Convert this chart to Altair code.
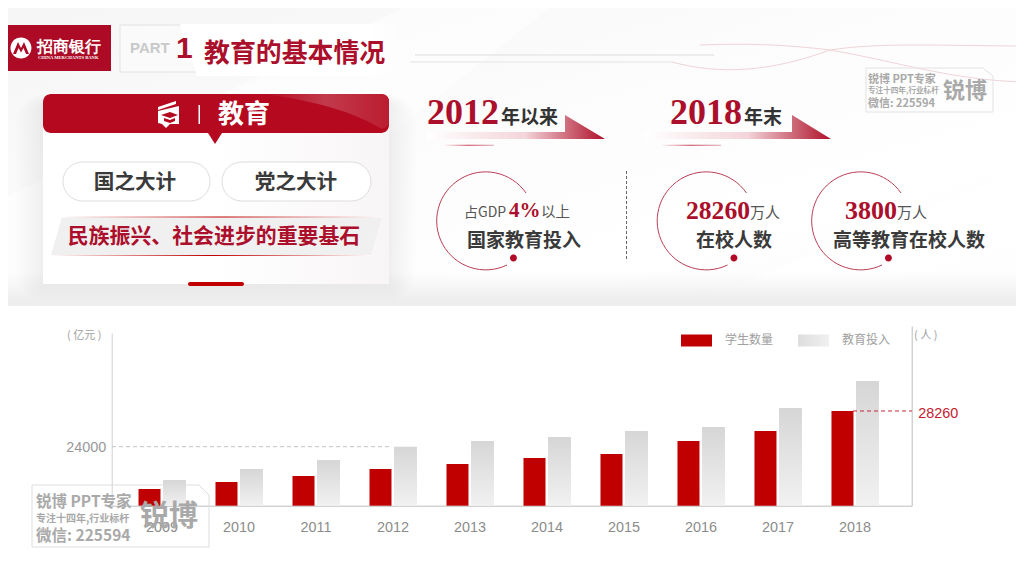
import altair as alt
import pandas as pd

years = [str(y) for y in range(2009, 2019)]
students = [4980, 7070, 8860, 10950, 12440, 14230, 15430, 19300, 22290, 28260]
investment = [10450, 14930, 18590, 24000, 26320, 27950, 30390, 32010, 39740, 50730]
legend_labels = ["学生数量", "教育投入"]

CJK = "Noto Sans CJK SC"
SANS = "Liberation Sans"
SERIF = "Liberation Serif"
CRIMSON = "#ab0f2b"
RED = "#c00000"
ONE = alt.Data(values=[{}])
W, H = 1008, 552
layers = []


def grad(stops, x1=0, y1=0, x2=1, y2=0):
    return alt.LinearGradient(gradient="linear", x1=x1, y1=y1, x2=x2, y2=y2,
                              stops=[alt.GradientStop(offset=o, color=c) for o, c in stops])


def shape(path, fill=None, stroke=None, sw=1, opacity=1):
    kw = dict(shape=path, size=4, opacity=opacity, strokeWidth=sw if stroke else 0)
    if fill is not None:
        kw.update(filled=True, fill=fill)
    else:
        kw.update(filled=False)
    if stroke:
        kw["stroke"] = stroke
    layers.append(alt.Chart(ONE).mark_point(**kw).encode(x=alt.value(-8), y=alt.value(-8)))


def box(x0, y0, x1, y1, fill=None, stroke=None, r=0, opacity=1, sw=1):
    kw = dict(opacity=opacity, cornerRadius=r)
    if fill is not None:
        kw["fill"] = fill
    if stroke:
        kw.update(stroke=stroke, strokeWidth=sw)
    layers.append(alt.Chart(ONE).mark_rect(**kw).encode(
        x=alt.value(x0 - 8), x2=alt.value(x1 - 8), y=alt.value(y0 - 8), y2=alt.value(y1 - 8)))


def label(s, x, y, size, color, font=CJK, bold=False, align="left", opacity=1):
    layers.append(alt.Chart(ONE).mark_text(
        font=font, fontSize=size, color=color, fontWeight="bold" if bold else "normal",
        align=align, baseline="middle", opacity=opacity).encode(
        text=alt.value(s), x=alt.value(x - 8), y=alt.value(y - 8)))


# page background
box(0, 0, 1024, 300, fill=grad([(0, "#f5f5f5"), (0.45, "#fcfcfc"), (0.75, "#ffffff"), (1, "#f9f9f9")], 0, 0, 1, 1))
shape("M0 200 L420 0 L560 0 L180 300 L0 300 Z", fill="#fdfdfd", opacity=0.7)
shape("M700 300 L1024 170 L1024 300 Z", fill="#ffffff", opacity=0.8)
box(0, 272, 1024, 299, fill=grad([(0, "rgba(240,240,240,0)"), (1, "#eeeeee")], 0, 0, 0, 1))
box(0, 299, 1024, 306, fill="#eeeeee")
shape("M672 62 C720 75 770 72 830 50 C880 42 950 46 1024 46", stroke="#f0d4d8")
shape("M700 45 C750 43 790 45 830 50 C900 62 950 80 1024 82", stroke="#f0d4d8")
box(415, 54.5, 714, 55.5, fill="#dddddd")
box(410, 61.5, 672, 62.5, fill="#e4e4e4")

# header
box(0, 25, 111, 71, fill="#ac0a25")
shape("M21 37.5 A10.5 10.5 0 1 1 20.9 37.5 Z", fill="#ffffff")
shape("M13 54 L18 42 L21 48 L24 42 L29 54 L26 54 L23.5 48 L21 52.5 L18.5 48 L16 54 Z", fill="#ac0a25")
label("招商银行", 37, 47, 15.5, "#ffffff", font=SERIF, bold=True)
label("CHINA MERCHANTS BANK", 38, 58, 4.6, "#ffffff", font=SERIF, bold=True)
box(120, 25, 196, 72, fill="#fafafa", stroke="#e2e2e2")
shape("M180 24 L400 24 L400 76 L197 76 Z", fill=grad([(0, "#ffffff"), (0.85, "#ffffff"), (1, "rgba(255,255,255,0)")]))
label("PART", 130, 48, 15, "#c9c9c9", font=SANS, bold=True)
label("1", 176, 49, 30, CRIMSON, font=SANS, bold=True)
label("教育的基本情况", 204, 54, 25.9, CRIMSON, bold=True)

# card
for i, d in enumerate([26, 22, 18, 14, 10, 6, 3]):
    box(43 - d, 105 - d * 0.4, 389 + d, 284 + d * 0.6, fill="#000000", r=d, opacity=0.006)
box(43, 120, 389, 284, fill=grad([(0, "#ffffff"), (0.5, "#ffffff"), (1, "#f8f5f6")]))
box(43, 94, 389, 133, fill="#b4091f", r=8)
shape("M262 94 L381 94 Q389 94 389 102 L389 124 Q385 130 380 128 C350 110 310 100 262 94 Z",
      fill=grad([(0, "#b4091f"), (0.5, "#c23a4c"), (1, "#bb1c30")]))
shape("M208 133 L222 133 L215 144 Z", fill="#b4091f")
shape("M158 107 L176 101 L176 104 L158 110 Z", fill="#ffffff")
shape("M158 111 L179 106 L179 124 L170 124 L166 128 L162 124 L158 123 Z", fill="#ffffff")
shape("M161 115 L170 112 L178 115 L170 118 Z", fill="#b4091f")
shape("M164 118 L170 120 L175 118 L175 121 L170 123 L164 121 Z", fill="#b4091f")
box(198.5, 105, 200, 124, fill="#ffffff")
label("教育", 218, 115, 26, "#ffffff", bold=True)
box(63, 162, 210, 201, fill="#ffffff", stroke="#dddddd", r=19.5)
box(222, 162, 371, 201, fill="#ffffff", stroke="#dddddd", r=19.5)
label("国之大计", 135, 182.5, 20.6, "#3a3a3a", bold=True, align="center")
label("党之大计", 296, 182.5, 20.6, "#3a3a3a", bold=True, align="center")
shape("M62 217 L382 217 L371 255 L51 255 Z", fill="#f1f0f0")
box(62, 216.5, 382, 217.5, fill=grad([(0, "#ffffff"), (0.5, "#c00000"), (1, "#ffffff")]))
box(51, 255, 371, 256, fill=grad([(0, "#ffffff"), (0.5, "#c00000"), (1, "#ffffff")]))
label("民族振兴、社会进步的重要基石", 214, 237, 20.9, CRIMSON, bold=True, align="center")
box(188, 282, 244, 286, fill=RED, r=2)

# headings with arrows
for a, b, c, e, f in [(427, 565, 605, 443, 494), (645, 792, 831, 660, 721)]:
    shape(f"M{a} 139 L{c} 139 L{b} 115 L{b} 132 L{a} 132 Z",
          fill=grad([(0, "#ffffff"), (0.55, "#f3d5da"), (1, "#ae1029")]))
    box(e, 144.8, f, 145.8, fill=grad([(0, "#ffffff"), (0.5, "#c9415a"), (1, "#ddaab4")]))
label("2012", 427, 113, 36, CRIMSON, font=SERIF, bold=True)
label("年以来", 501, 118, 19, "#333333", bold=True)
label("2018", 670, 113, 36, CRIMSON, font=SERIF, bold=True)
label("年末", 744, 118, 19, "#333333", bold=True)
layers.append(alt.Chart(ONE).mark_rule(color="#666666", strokeDash=[3, 2], strokeWidth=1).encode(
    x=alt.value(618.5), y=alt.value(171 - 8), y2=alt.value(260 - 8)))

# rings
for cx in [486, 706.5, 861]:
    shape(f"M{cx + 40} 193 A49 49 0 1 0 {cx + 21} 265", stroke="#bb3f55", sw=1)
    shape(f"M{cx + 27.5} 254.5 A3.5 3.5 0 1 1 {cx + 27.4} 254.5 Z", fill="#b10a26")
label("占GDP", 464, 213, 14, "#555555")
label("4%", 509, 211, 21, CRIMSON, font=SERIF, bold=True)
label("以上", 541, 213, 14.5, "#555555")
label("国家教育投入", 524, 240.5, 19, "#3a3a3a", bold=True, align="center")
label("28260", 686, 211, 25.6, CRIMSON, font=SERIF, bold=True)
label("万人", 750, 213, 15, "#555555")
label("在校人数", 734, 240.5, 19, "#3a3a3a", bold=True, align="center")
label("3800", 845, 211, 26, CRIMSON, font=SERIF, bold=True)
label("万人", 897, 213, 15, "#555555")
label("高等教育在校人数", 909, 240.5, 19, "#3a3a3a", bold=True, align="center")

# chart
df = pd.DataFrame({"year": years, "students": students, "investment": investment})
xs = alt.Scale(domain=years, range=[103.7, 903.7], paddingInner=0, paddingOuter=0.195, align=0.393)
yl = alt.Scale(domain=[0, 70254], range=[497.7, 325])
yr = alt.Scale(domain=[0, 53622], range=[497.7, 318])
gray = grad([(0, "#d6d6d6"), (1, "#f1f1f1")], 0, 0, 0, 1)

layers.append(alt.Chart(pd.DataFrame({"v": [24000]})).mark_rule(
    color="#c4c4c4", strokeDash=[4, 3], strokeWidth=1).encode(
    y=alt.Y("v:Q", scale=yl, axis=None), x=alt.value(112 - 8), x2=alt.value(392 - 8)))
layers.append(alt.Chart(df).mark_bar(size=23, xOffset=12.5, fill=gray).encode(
    x=alt.X("year:N", scale=xs, title=None, sort=years, axis=alt.Axis(
        offset=497.7 - H, labelAngle=0, ticks=False, labelPadding=15, labelFontSize=14.4,
        labelFont=SANS, labelColor="#8c8c8c", domainColor="#bdbdbd", domainWidth=1, grid=False)),
    y=alt.Y("investment:Q", scale=yl, title=None, axis=alt.Axis(
        orient="left", offset=-103.7, values=[24000], format="d", ticks=False, grid=False, labelPadding=6,
        labelOffset=1, labelFontSize=14.4, labelFont=SANS, labelColor="#999999", domainColor="#d0d0d0", domainWidth=1))))
layers.append(alt.Chart(df).mark_bar(size=22, xOffset=-12.5, color=RED).encode(
    x=alt.X("year:N", scale=xs, title=None, sort=years),
    y=alt.Y("students:Q", scale=yr, title=None, axis=alt.Axis(
        orient="right", offset=903.7 - W, values=[28260], format="d", ticks=False, grid=False, labelPadding=6,
        labelOffset=3, labelFontSize=14.4, labelFont=SANS, labelColor="#c4202f", domainColor="#bdbdbd", domainWidth=1))))
layers.append(alt.Chart(pd.DataFrame({"v": [28260]})).mark_rule(
    color="#c4283c", strokeDash=[4, 3], strokeWidth=1).encode(
    y=alt.Y("v:Q", scale=yr, axis=None), x=alt.value(853 - 8), x2=alt.value(912 - 8)))

label("( 亿元 )", 67, 336, 11, "#a0a0a0")
label("( 人 )", 914, 336, 11, "#a0a0a0")
box(681, 334.5, 712, 346.5, fill=RED)
label(legend_labels[0], 725, 340, 12, "#a0a0a0")
box(798, 334.5, 829, 346.5, fill=grad([(0, "#dddddd"), (1, "#f0f0f0")]))
label(legend_labels[1], 842, 340, 12, "#a0a0a0")

# watermarks
WM = "#a9a9a9"
shape("M866 68 L983 68 L993 76 L993 112 L866 112 Z", stroke="#e2e2e2")
label("锐博 PPT专家", 868, 80, 11, WM, bold=True)
label("专注十四年,行业标杆", 868, 91, 7.6, WM, bold=True)
label("微信: 225594", 868, 104, 11, WM, bold=True)
label("锐博", 943, 91, 22, WM, bold=True)
shape("M32 485 L199 485 L209 495 L209 547 L32 547 Z", stroke="#dddddd")
label("锐博 PPT专家", 36, 502, 15.5, WM, bold=True)
label("专注十四年,行业标杆", 36, 519, 10, WM, bold=True)
label("微信: 225594", 36, 536, 15.5, WM, bold=True)
label("锐博", 140, 517, 29, WM, bold=True)

chart = alt.layer(*layers).resolve_scale(y="independent").properties(
    width=W, height=H, padding=0, autosize=alt.AutoSizeParams(type="none"),
    background="#ffffff").configure_view(strokeWidth=0)

chart.save("out.html", embed_options={"renderer": "svg", "actions": False})
